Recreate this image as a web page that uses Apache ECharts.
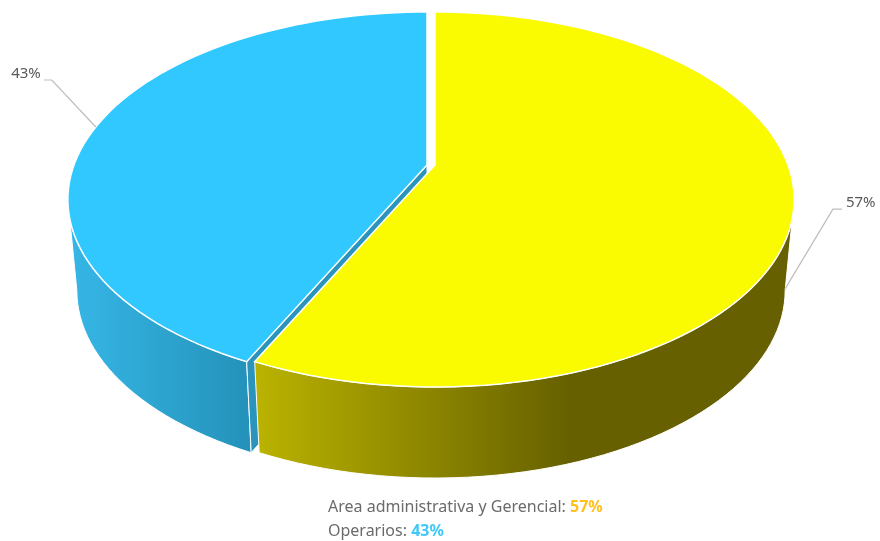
<!DOCTYPE html>
<html>
<head>
<meta charset="utf-8">
<style>
html,body{margin:0;padding:0;background:#fff;}
#main{width:880px;height:541px;}
</style>
<script src="https://cdn.jsdelivr.net/npm/echarts@6/dist/echarts.min.js"></script>
</head>
<body>
<div id="main"></div>
<script>
var categories = ['Area administrativa y Gerencial', 'Operarios'];
var values = [57, 43];
var topColors = ['#fafa00', '#30c8ff'];
var textColors = ['#ffc020', '#40c8fa'];
var drawOrder = [1, 0]; // blue goes first, yellow sits over its inner wall

var chart = echarts.init(document.getElementById('main'), null, {renderer: 'canvas'});

// tilted disc, with perspective
var apexY = 165, persp = -0.184, spanY = 150.8, spanX = 353;
var depth = 91, shrink = 0.975;
var centers = [435, 427];
var sideRight = 100.6, sideLeft = 259.4; // where the rim turns away from the viewer

function onTop(cx, deg) {
    var a = deg * Math.PI / 180;
    var u = Math.sin(a), v = -Math.cos(a);
    var d = 1 + persp * v;
    return [cx + spanX * u / d, (apexY + spanY * v) / d];
}
function onBottom(cx, deg) {
    var p = onTop(cx, deg);
    return [cx + (p[0] - cx) * shrink, p[1] + depth];
}
function arc(fn, cx, from, to) {
    var pts = [], n = Math.ceil(Math.abs(to - from) / 2);
    for (var i = 0; i <= n; i++) {
        pts.push(fn(cx, from + (to - from) * i / n));
    }
    return pts;
}
function hGrad(x0, x1, c0, c1) {
    return new echarts.graphic.LinearGradient(x0, 0, x1, 0, [
        {offset: 0, color: c0}, {offset: 1, color: c1}
    ], true);
}

function renderSlice(params, api) {
    var idx = api.value(0);
    var total = values[0] + values[1];
    var from = 0;
    for (var i = 0; i < idx; i++) { from += values[i] / total * 360; }
    var to = from + api.value(1) / total * 360;
    var mid = (from + to) / 2;
    var cx = centers[idx];
    var kids = [];
    var wall, face;

    if (idx === 0) {
        wall = arc(onTop, cx, sideRight, to).concat(arc(onBottom, cx, to, sideRight));
        kids.push({type: 'polygon', shape: {points: wall},
            style: {fill: hGrad(260, 570, '#b9b200', '#666000'), stroke: '#fff', lineWidth: 1}});
    } else {
        wall = arc(onTop, cx, from, sideLeft).concat(arc(onBottom, cx, sideLeft, from));
        kids.push({type: 'polygon', shape: {points: wall},
            style: {fill: hGrad(72, 250, '#36b6e6', '#2492ba'), stroke: '#fff', lineWidth: 1}});
        // inner cut face seen through the gap
        face = [[cx, apexY], onTop(cx, from), onBottom(cx, from), [cx, apexY + depth]];
        kids.push({type: 'polygon', shape: {points: face},
            style: {fill: '#2a94bc', stroke: '#fff', lineWidth: 1}});
    }

    var topPts = [[cx, apexY]].concat(arc(onTop, cx, from, to));
    kids.push({type: 'polygon', shape: {points: topPts},
        style: {fill: topColors[idx], stroke: '#fff', lineWidth: 1.5}});

    // leader line and percent label
    var anchor, elbow, end, label;
    if (idx === 0) {
        anchor = onBottom(cx, mid);
        anchor[1] -= 8;
        elbow = [anchor[0] + 48, anchor[1] - 80];
        end = [elbow[0] + 9, elbow[1]];
        label = {x: end[0] + 4, y: end[1] - 6, align: 'left'};
    } else {
        anchor = onTop(cx, mid);
        elbow = [anchor[0] - 44, anchor[1] - 47];
        end = [elbow[0] - 8, elbow[1]];
        label = {x: end[0] - 3, y: end[1] - 6, align: 'right'};
    }
    kids.push({type: 'polyline', shape: {points: [anchor, elbow, end]},
        style: {fill: null, stroke: '#bdbdbd', lineWidth: 1.2}});
    kids.push({type: 'text', x: label.x, y: label.y, style: {
        text: api.value(1) + '%', fill: '#595959', align: label.align, verticalAlign: 'middle',
        font: '15px "Noto Sans"', width: 28
    }});
    return {type: 'group', children: kids};
}

var seriesData = drawOrder.map(function (i) { return [i, values[i]]; });

var legendText = categories.map(function (c, i) {
    return c + ': {v' + i + '|' + values[i] + '%}';
}).join('\n');

var option = {
    backgroundColor: '#fff',
    animation: false,
    series: [{
        type: 'custom',
        coordinateSystem: 'none',
        silent: true,
        renderItem: renderSlice,
        data: seriesData
    }],
    graphic: [{
        type: 'text',
        left: 328,
        top: 495,
        style: {
            text: legendText,
            fill: '#6b6b6b',
            font: '16px "Noto Sans"',
            lineHeight: 24,
            rich: {
                v0: {fill: textColors[0], fontWeight: 'bold', fontSize: 16, fontFamily: 'Noto Sans', lineHeight: 24},
                v1: {fill: textColors[1], fontWeight: 'bold', fontSize: 16, fontFamily: 'Noto Sans', lineHeight: 24}
            }
        }
    }]
};
chart.setOption(option);
</script>
</body>
</html>
